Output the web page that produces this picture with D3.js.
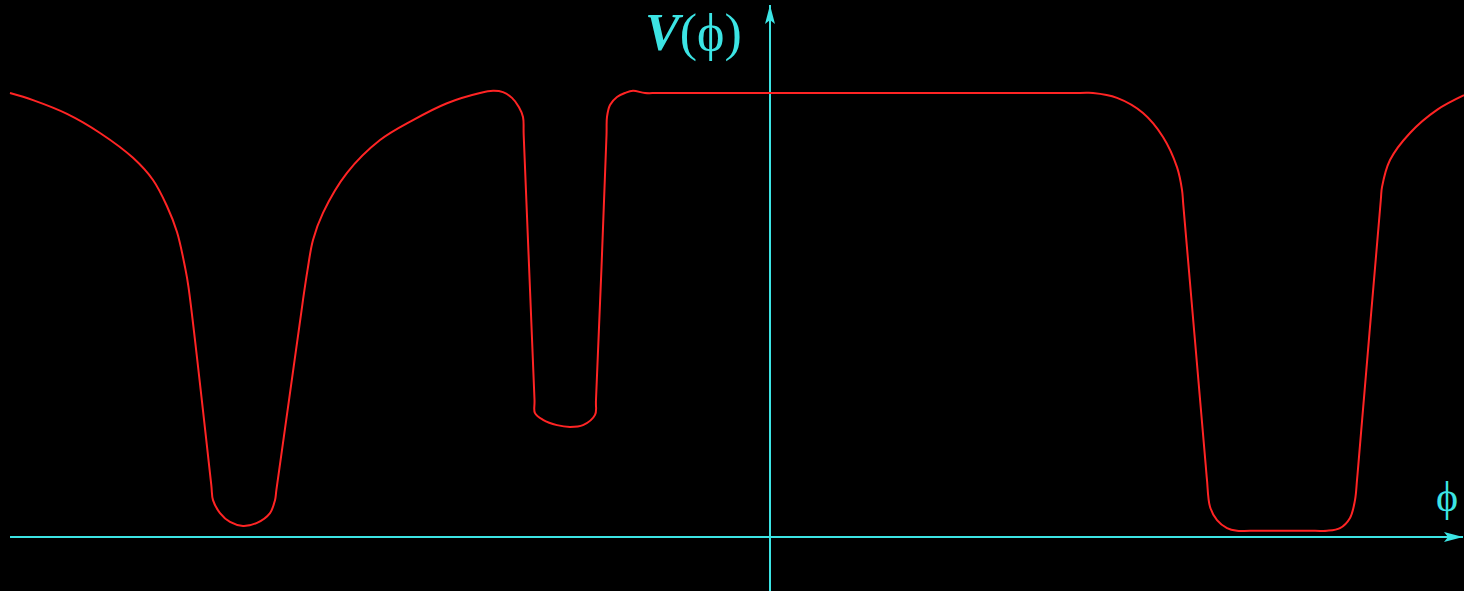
<!DOCTYPE html>
<html>
<head>
<meta charset="utf-8">
<script src="https://cdn.jsdelivr.net/npm/d3@7"></script>
<style>
  html, body { margin: 0; padding: 0; background: #000; overflow: hidden; }
  svg { display: block; }
</style>
</head>
<body>
<svg id="chart" width="1464" height="591"></svg>
<script>
// potential V(phi) (phi in arbitrary units, V scaled so plateau = 1)
const phi = [
  -7.600, -7.370, -7.030, -6.700, -6.370, -6.170, -6.030, -5.930, -5.850, -5.815,
  -5.587, -5.570, -5.500, -5.400, -5.270, -5.130, -5.000, -4.950, -4.936, -4.684,
  -4.670, -4.625, -4.570, -4.470, -4.230, -3.900, -3.570, -3.230, -2.900, -2.770, -2.670,
  -2.580, -2.510, -2.470, -2.463, -2.355, -2.350, -2.270, -2.130, -2.000, -1.870,
  -1.750, -1.740, -1.635, -1.630, -1.600, -1.530, -1.450, -1.370, -1.250, -1.100,
  3.100, 3.230, 3.470, 3.730, 3.930, 4.070, 4.120, 4.133, 4.357, 4.370,
  4.400, 4.470, 4.570, 4.670, 4.800, 5.450, 5.570, 5.700, 5.800, 5.850,
  5.870, 5.883, 6.108, 6.120, 6.200, 6.400, 6.670, 6.940
];
const V = [
  1.000, 0.984, 0.953, 0.910, 0.854, 0.804, 0.745, 0.687, 0.608, 0.563,
  0.117, 0.083, 0.054, 0.034, 0.025, 0.032, 0.054, 0.083, 0.106, 0.511,
  0.534, 0.601, 0.669, 0.730, 0.820, 0.894, 0.939, 0.977, 1.000, 1.005, 1.002,
  0.989, 0.968, 0.946, 0.905, 0.309, 0.279, 0.264, 0.252, 0.248, 0.252,
  0.275, 0.309, 0.905, 0.946, 0.973, 0.991, 1.000, 1.005, 1.000, 1.000,
  1.000, 1.000, 0.989, 0.955, 0.901, 0.833, 0.782, 0.748, 0.162, 0.128,
  0.068, 0.038, 0.020, 0.014, 0.014, 0.014, 0.014, 0.020, 0.043, 0.083,
  0.128, 0.162, 0.759, 0.788, 0.849, 0.910, 0.962, 0.995
];

const CYAN = '#3ce4e4';
const RED = '#ff2424';

const svg = d3.select('#chart');

// origin at (770, 537); 100 px per phi unit, 444 px per V unit
const x = d3.scaleLinear().domain([-7.6, 6.94]).range([10, 1464]);
const y = d3.scaleLinear().domain([0, 1]).range([537, 93]);

svg.append('rect')
  .attr('width', 1464)
  .attr('height', 591)
  .attr('fill', '#000');

const defs = svg.append('defs');
defs.append('marker')
  .attr('id', 'arrow')
  .attr('viewBox', '0 -6 20 12')
  .attr('refX', 19)
  .attr('refY', 0)
  .attr('markerWidth', 20)
  .attr('markerHeight', 12)
  .attr('markerUnits', 'userSpaceOnUse')
  .attr('orient', 'auto')
  .append('path')
  .attr('d', 'M0,-5 L19,0 L0,5 L4,0 Z')
  .attr('fill', CYAN);

// axes
svg.append('line')
  .attr('x1', x(-7.6)).attr('y1', y(0))
  .attr('x2', 1463).attr('y2', y(0))
  .attr('stroke', CYAN)
  .attr('stroke-width', 2)
  .attr('marker-end', 'url(#arrow)');

svg.append('line')
  .attr('x1', x(0)).attr('y1', 591)
  .attr('x2', x(0)).attr('y2', 5)
  .attr('stroke', CYAN)
  .attr('stroke-width', 2)
  .attr('marker-end', 'url(#arrow)');

// curve
const pts = phi.map((p, i) => [p, V[i]]);
const line = d3.line()
  .x(d => x(d[0]))
  .y(d => y(d[1]))
  .curve(d3.curveCatmullRom.alpha(0.5));

svg.append('path')
  .datum(pts)
  .attr('d', line)
  .attr('fill', 'none')
  .attr('stroke', RED)
  .attr('stroke-width', 2);

// labels
const title = svg.append('text')
  .attr('x', 645)
  .attr('y', 50)
  .attr('fill', CYAN)
  .attr('font-family', '"Liberation Serif", "DejaVu Serif", serif')
  .attr('font-size', 52);
title.append('tspan')
  .attr('font-weight', 'bold')
  .attr('font-style', 'italic')
  .text('V');
title.append('tspan').text('(\u03D5)');

svg.append('text')
  .attr('x', 1447)
  .attr('y', 511)
  .attr('text-anchor', 'middle')
  .attr('fill', CYAN)
  .attr('font-family', '"Liberation Serif", "DejaVu Serif", serif')
  .attr('font-size', 42)
  .text('\u03D5');
</script>
</body>
</html>
